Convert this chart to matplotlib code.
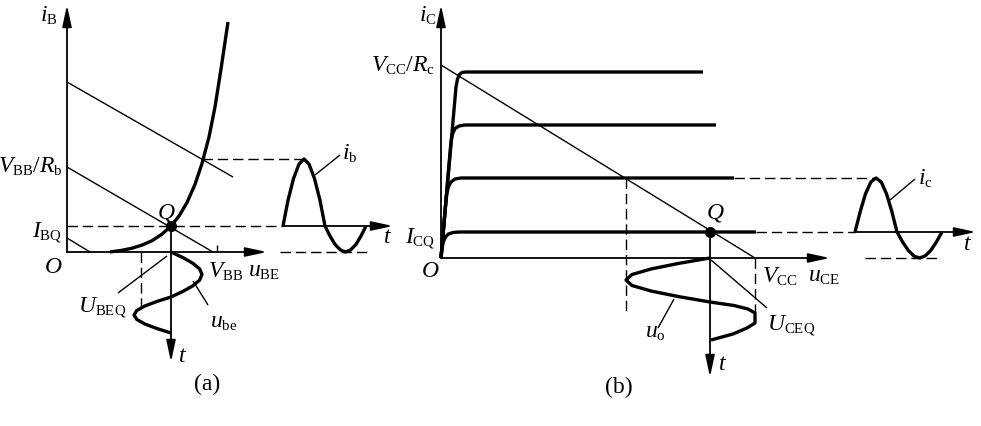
import matplotlib.pyplot as plt
import matplotlib._mathtext as mathtext_internal
from matplotlib.transforms import Affine2D

# ---- panel (a): input side, values measured from O (u_BE to the right, i_B up) ----
ube_in = [43, 55, 65, 75, 85, 95, 104, 112, 120, 128, 135, 142, 148, 154, 161]
ib_in = [0, 1.7, 3.8, 6.9, 11.3, 17.8, 26, 36, 49.4, 67.6, 88.5, 115, 145, 183, 230]
VBB = 146
VBB_Rb = 85
load_hi = [170, 75, 166]      # i at 0, i at end, u at end
load_lo = [14, 23]            # i at 0, u at 0-crossing
UBEQ = 104
IBQ = 26
ib_peak = 93

# i_b(t) waveform
ib_t = [216, 221, 226.5, 232, 237, 242, 247.5, 253, 258,
        263, 268, 273.5, 278.5, 283.5, 289, 294, 299]
ib_v = [26, 51.7, 73.4, 87.9, 93, 87.9, 73.4, 51.7, 26,
        16, 7.6, 2, 0, 2, 7.6, 16, 26]

# u_be(t) waveform, time going down
ube_t = [0, -5.6, -11.3, -16.9, -22.5, -28.1, -33.8, -39.4, -45,
         -49.5, -54, -58.5, -63, -67.5, -72, -76.5, -81]
ube_v = [104, 115.9, 125.9, 132.6, 135, 132.6, 125.9, 115.9, 104,
         89.8, 77.8, 69.8, 67, 69.8, 77.8, 89.8, 104]
ube_min = 74

# ---- panel (b): output side, values measured from O (u_CE right, i_C up) ----
ic_u = [
    [0, 15, 16.5, 18.5, 21, 25, 262],
    [0, 9, 10, 11.5, 14, 18, 24, 275],
    [0, 5, 6, 7.5, 10, 14, 20, 293],
    [0, 1, 2.5, 4.5, 7.5, 12, 18, 315],
]
ic_i = [
    [0, 171, 179, 183.5, 185.5, 186, 186],
    [0, 105, 116, 124, 129.5, 132, 133, 133],
    [0, 58, 65.5, 71.5, 76, 79, 80, 80],
    [0, 10, 16.5, 21, 24, 25.5, 26, 26],
]
VCC = 314
VCC_Rc = 193
UCEQ = 269
ICQ = 26
ic_peak = 80
uce_min = 185

# i_c(t) waveform
ic_t = [414, 419.3, 424.5, 429.8, 435, 440.3, 445.5, 450.8, 456,
        461.6, 467.3, 472.9, 478.5, 484.1, 489.8, 495.4, 501]
ic_v = [26, 46.7, 64.2, 75.9, 80, 75.9, 64.2, 46.7, 26,
        16, 7.6, 2, 0, 2, 7.6, 16, 26]

# u_o(t) waveform, time going down (clipped at V_CC)
uo_t = [0, -5.5, -11, -16.5, -22, -27.5, -33, -38.5, -44,
        -47.5, -51, -55, -60, -65, -70, -76, -82]
uo_v = [269, 237, 210, 191, 185, 191, 210, 237, 269,
        293, 307, 314, 314, 314, 306, 292, 270]

plt.rcParams['font.family'] = 'Liberation Serif'
plt.rcParams['mathtext.fontset'] = 'custom'
plt.rcParams['mathtext.rm'] = 'Liberation Serif'
plt.rcParams['mathtext.it'] = 'Liberation Serif:italic'
# smaller subscripts, like the book figure
mathtext_internal.SHRINK_FACTOR = 0.63

fig = plt.figure(figsize=(9.81, 4.26), dpi=100)
ax = fig.add_axes([0, 0, 1, 1])
ax.set_xlim(0, 981)
ax.set_ylim(426, 0)
ax.axis('off')

tra = Affine2D().scale(1, -1).translate(67, 252) + ax.transData
trb = Affine2D().scale(1, -1).translate(441, 258) + ax.transData

THIN = 1.0
AXW = 1.3
THICK = 2.4
FS = 17


def line(tr, xs, ys, lw=THIN, dashed=False):
    if dashed:
        ax.plot(xs, ys, color='k', lw=lw, transform=tr, dashes=(7.5, 3.5))
    else:
        ax.plot(xs, ys, color='k', lw=lw, transform=tr, solid_capstyle='butt')


def arrow(tr, x0, y0, x1, y1):
    ax.annotate('', xy=(x1, y1), xytext=(x0, y0), xycoords=tr, textcoords=tr,
                arrowprops=dict(arrowstyle='-|>,head_length=1.3,head_width=0.28',
                                color='k', lw=AXW, shrinkA=0, shrinkB=0))


def label(tr, x, y, s, ha='left'):
    ax.text(x, y, s, transform=tr, ha=ha, va='baseline', fontsize=FS)


# ================= panel (a) =================
arrow(tra, 0, 0, 0, 247)
arrow(tra, 0, 0, 200, 0)
line(tra, [213, 303], [0, 0], dashed=True)

line(tra, [0, load_hi[2]], [load_hi[0], load_hi[1]])
line(tra, [0, VBB], [VBB_Rb, 0])
line(tra, [0, load_lo[1]], [load_lo[0], 0])
line(tra, [VBB + 4, VBB + 4], [0, 7])

line(tra, ube_in, ib_in, lw=THICK)

line(tra, [0, ib_t[0]], [IBQ, IBQ], dashed=True)
arrow(tra, ib_t[0], IBQ, 326, IBQ)
line(tra, [ube_in[10], 237], [ib_peak, ib_peak], dashed=True)
line(tra, ib_t, ib_v, lw=THICK)

arrow(tra, UBEQ, IBQ, UBEQ, -110)
line(tra, [ube_min, ube_min], [0, -58], dashed=True)
line(tra, ube_v, ube_t, lw=THICK)
ax.plot(UBEQ, IBQ, 'o', ms=7, color='k', transform=tra)

line(tra, [51, 100], [-41, -4])
line(tra, [126, 141], [-29, -53])
line(tra, [248, 273], [77, 97])

label(tra, -9, 230, r'$i_{\mathrm{B}}$', ha='right')
label(tra, -4, 79, r'$V_{\mathrm{BB}}/R_{\mathrm{b}}$', ha='right')
label(tra, -5, 15, r'$I_{\mathrm{BQ}}$', ha='right')
label(tra, -14, -21, r'$O$', ha='center')
label(tra, 99, 34, r'$Q$', ha='center')
label(tra, 141, -26, r'$V_{\mathrm{BB}}$')
label(tra, 181, -25, r'$u_{\mathrm{BE}}$')
label(tra, 11, -60, r'$U_{\mathrm{BEQ}}$')
label(tra, 143, -76, r'$u_{\mathrm{be}}$')
label(tra, 111, -110, r'$t$')
label(tra, 316, 9, r'$t$')
label(tra, 275, 92, r'$i_{\mathrm{b}}$')
label(tra, 140, -138, '(a)', ha='center')

# ================= panel (b) =================
arrow(trb, 0, 0, 0, 253)
arrow(trb, 0, 0, 389, 0)
line(trb, [0, VCC], [VCC_Rc, 0])

for u, i in zip(ic_u, ic_i):
    line(trb, u, i, lw=THICK)

line(trb, [ic_u[2][-1], ic_t[4]], [ic_peak, ic_peak], dashed=True)
line(trb, [ic_u[3][-1], ic_t[0]], [ICQ, ICQ], dashed=True)
arrow(trb, ic_t[0], ICQ, 535, ICQ)
line(trb, [424, 496], [0, 0], dashed=True)
line(trb, ic_t, ic_v, lw=THICK)

arrow(trb, UCEQ, ICQ, UCEQ, -119)
line(trb, [uce_min, uce_min], [ic_peak, -57], dashed=True)
line(trb, [VCC, VCC], [0, -55], dashed=True)
line(trb, uo_v, uo_t, lw=THICK)
ax.plot(UCEQ, ICQ, 'o', ms=7, color='k', transform=trb)

line(trb, [270, 326], [-2, -50])
line(trb, [217, 233], [-70, -41])
line(trb, [449, 474], [58, 79])

label(trb, -4, 236, r'$i_{\mathrm{C}}$', ha='right')
label(trb, -6, 186, r'$V_{\mathrm{CC}}/R_{\mathrm{c}}$', ha='right')
label(trb, -6, 15, r'$I_{\mathrm{CQ}}$', ha='right')
label(trb, -11, -19, r'$O$', ha='center')
label(trb, 274, 40, r'$Q$', ha='center')
label(trb, 321, -25, r'$V_{\mathrm{CC}}$')
label(trb, 367, -24, r'$u_{\mathrm{CE}}$')
label(trb, 326, -72, r'$U_{\mathrm{CEQ}}$')
label(trb, 204, -80, r'$u_{\mathrm{o}}$')
label(trb, 277, -112, r'$t$')
label(trb, 522, 8, r'$t$')
label(trb, 477, 73, r'$i_{\mathrm{c}}$')
label(trb, 178, -135, '(b)', ha='center')

fig.savefig('out.png', dpi=100)
